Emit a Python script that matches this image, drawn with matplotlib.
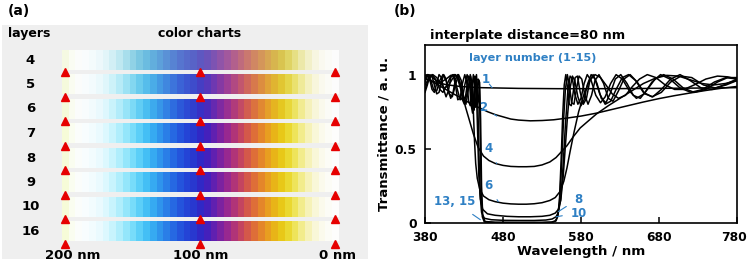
import numpy as np
import matplotlib
matplotlib.use("Agg")
import matplotlib.pyplot as plt
from matplotlib.transforms import blended_transform_factory, ScaledTranslation
from matplotlib.colors import to_rgb

plt.rcParams['font.family'] = ['DejaVu Sans']

# ---------------- data: panel (a) ----------------
layers = ['4', '5', '6', '7', '8', '9', '10', '16']
row_strength = [0.66, 0.84, 0.94, 1.0, 1.0, 1.0, 1.0, 1.0]
thickness_nm = list(range(200, -1, -5))          # 41 blocks, 200 nm (left) -> 0 nm (right)
palette = ['#f6fbd8', '#fafdf0', '#fbfdfb', '#f8fdfe', '#f2fcfe', '#eafafe', '#dcf8fe',
           '#c8f4fd', '#b0eefc', '#94e6fb', '#78dcfa', '#5ccff8', '#44bff5', '#36aaf1',
           '#2f94ec', '#2a7ee7', '#2668e2', '#2454dc', '#2444d6', '#2838cf', '#3028c6',
           '#4420bc', '#6020b0', '#7c22a0', '#982890', '#b03478', '#c44460', '#d4584a',
           '#de6e38', '#e4862a', '#e89e20', '#e8b418', '#e8c818', '#ead830', '#eee45a',
           '#f2ec8c', '#f6f2b8', '#f9f7d8', '#fbfaec', '#fcfcf6', '#fdfdfc']
marker_nm = [200, 100, 0]
scale_labels = ['200 nm', '100 nm', '0 nm']

# ---------------- data: panel (b) ----------------
layer1 = [(380,0.975),(390,0.955),(400,0.94),(410,0.93),(425,0.92),(450,0.912),(500,0.907),
          (550,0.905),(600,0.905),(650,0.906),(700,0.908),(750,0.91),(780,0.912)]
layer2 = [(380,0.975),(390,0.95),(400,0.92),(410,0.89),(420,0.86),(430,0.83),(440,0.80),(450,0.775),
          (460,0.75),(470,0.73),(480,0.715),(490,0.70),(500,0.693),(515,0.688),(530,0.69),(545,0.695),
          (560,0.705),(580,0.72),(600,0.74),(620,0.765),(640,0.79),(660,0.815),(680,0.838),(700,0.858),
          (720,0.876),(740,0.893),(760,0.908),(780,0.92)]
layer4 = [(380,0.99),(384,1.0),(389,0.985),(395,0.955),(401,0.95),(407,0.97),(413,0.995),(418,1.0),
          (422,0.97),(427,0.88),(432,0.78),(437,0.69),(442,0.6),(448,0.51),(455,0.45),(462,0.42),
          (470,0.40),(480,0.387),(490,0.38),(500,0.378),(510,0.378),(520,0.38),(530,0.39),(540,0.41),
          (548,0.44),(555,0.48),(562,0.52),(570,0.58),(579,0.64),(590,0.69),(600,0.735),(615,0.79),
          (630,0.84),(645,0.89),(660,0.94),(675,0.975),(690,0.995),(705,0.99),(720,0.965),(735,0.94),
          (750,0.93),(765,0.94),(780,0.96)]
layer6 = [(380,0.93),(385,0.975),(390,1.0),(395,0.98),(400,0.94),(405,0.91),(410,0.925),(415,0.97),
          (419,1.0),(423,0.98),(427,0.9),(430,0.84),(433,0.85),(436,0.93),(438.5,0.99),(440.5,0.93),
          (442,0.75),(443.5,0.55),(445,0.4),(447,0.3),(450,0.23),(455,0.18),(462,0.155),(470,0.142),
          (480,0.132),(490,0.127),(500,0.125),(510,0.125),(520,0.128),(530,0.135),(540,0.15),(547,0.17),
          (553,0.21),(558,0.28),(562,0.37),(566,0.48),(571,0.61),(577,0.75),(584,0.87),(591,0.96),
          (598,1.0),(605,0.98),(612,0.93),(620,0.87),(628,0.84),(637,0.86),(646,0.92),(655,0.97),
          (665,1.0),(676,0.98),(688,0.93),(700,0.9),(712,0.9),(725,0.93),(740,0.97),(755,0.99),
          (768,0.985),(780,0.97)]
layer8 = [(380,0.9),(384,0.96),(389,1.0),(394,0.965),(399,0.9),(403,0.88),(408,0.93),(413,0.99),
          (417,0.99),(421,0.91),(425,0.83),(428,0.84),(431,0.93),(434,1.0),(437,0.95),(439,0.8),
          (441,0.74),(443,0.85),(444.5,0.97),(446,0.88),(447.5,0.6),(449,0.32),(451,0.16),(454,0.09),
          (460,0.06),(470,0.05),(485,0.043),(500,0.04),(515,0.04),(530,0.043),(540,0.05),(547,0.065),
          (551,0.09),(554,0.15),(557,0.3),(560,0.52),(563,0.74),(566,0.91),(569,0.99),(572,0.96),
          (576,0.85),(580,0.79),(584,0.83),(588,0.93),(593,1.0),(598,0.97),(604,0.87),(611,0.8),
          (618,0.82),(625,0.9),(633,0.98),(641,1.0),(650,0.96),(660,0.88),(671,0.85),(683,0.88),
          (695,0.95),(708,0.99),(722,0.98),(737,0.93),(752,0.91),(766,0.93),(780,0.96)]
layer10 = [(380,0.95),(383,0.99),(387,0.97),(391,0.9),(395,0.89),(399,0.96),(403,1.0),(407,0.96),
           (411,0.87),(415,0.85),(419,0.93),(423,1.0),(426.5,0.96),(429.5,0.85),(432.5,0.8),(435.5,0.9),
           (438,1.0),(440,0.93),(441.5,0.78),(443,0.76),(444.5,0.9),(446,1.0),(447.5,0.86),(449,0.5),
           (450.5,0.2),(452.5,0.07),(456,0.03),(465,0.02),(480,0.016),(500,0.015),(520,0.015),
           (535,0.018),(543,0.025),(548,0.04),(551,0.07),(554,0.16),(557,0.38),(560,0.66),(563,0.88),
           (566,0.99),(569,0.97),(572,0.87),(576,0.8),(580,0.84),(584,0.94),(588,1.0),(593,0.96),
           (599,0.86),(605,0.81),(611,0.85),(618,0.94),(625,1.0),(633,0.97),(642,0.89),(651,0.84),
           (661,0.87),(671,0.95),(682,1.0),(694,0.97),(707,0.91),(721,0.88),(736,0.9),(751,0.95),
           (766,0.98),(780,0.97)]
layer13 = [(380,0.88),(383,0.93),(386,0.99),(389,0.99),(392,0.93),(395,0.87),(398,0.88),(401,0.95),
           (404,1.0),(407,0.97),(410,0.89),(413,0.84),(416,0.88),(419,0.97),(422,1.0),(425,0.94),
           (428,0.83),(430.5,0.8),(433,0.89),(435.5,0.99),(437.5,0.98),(439.5,0.84),(441,0.77),
           (442.5,0.86),(444,0.99),(445.5,0.97),(447,0.8),(448.5,0.82),(450,0.95),(451.3,0.7),
           (452.5,0.25),(454,0.05),(457,0.008),(470,0.003),(500,0.002),(530,0.002),(542,0.004),
           (547,0.012),(550,0.04),(552.5,0.14),(555,0.38),(557.5,0.68),(560,0.9),(562.5,1.0),
           (565,0.93),(568,0.81),(571,0.8),(574,0.9),(577.5,0.99),(581,0.97),(585,0.86),(589,0.8),
           (593.5,0.86),(598,0.96),(603,1.0),(609,0.94),(615,0.84),(621,0.82),(628,0.89),(635,0.97),
           (643,1.0),(652,0.95),(662,0.87),(672,0.85),(683,0.9),(695,0.97),(707,1.0),(720,0.96),
           (734,0.91),(748,0.9),(763,0.93),(780,0.97)]
layer15 = [(380,0.97),(383,1.0),(386,0.97),(389,0.9),(392,0.88),(395,0.94),(398,1.0),(401,0.98),
           (404,0.9),(407,0.85),(410,0.89),(413,0.98),(416,1.0),(419,0.93),(422,0.83),(425,0.84),
           (428,0.94),(431,1.0),(433.5,0.95),(436,0.82),(438,0.79),(440,0.9),(442,1.0),(443.5,0.92),
           (445,0.78),(446.5,0.82),(448,0.97),(449.5,0.96),(450.8,0.6),(452,0.2),(453.5,0.04),
           (456,0.005),(470,0.001),(500,0.0005),(530,0.001),(543,0.003),(548,0.012),(550.5,0.05),
           (552.5,0.17),(554.5,0.42),(556.5,0.72),(558.5,0.93),(560.5,1.0),(562.5,0.92),(565,0.8),
           (567.5,0.79),(570,0.88),(572.5,0.98),(575.5,0.99),(579,0.88),(583,0.8),(587,0.84),
           (591,0.95),(595.5,1.0),(600.5,0.94),(606,0.84),(612,0.81),(618,0.88),(624,0.97),(631,1.0),
           (639,0.94),(647,0.86),(656,0.84),(665,0.9),(675,0.97),(686,1.0),(698,0.97),(711,0.91),
           (725,0.88),(740,0.9),(755,0.95),(768,0.98),(780,0.98)]
curves = [layer1, layer2, layer4, layer6, layer8, layer10, layer13, layer15]

# label text, text position (nm, T), leader end (nm, T)
curve_labels = [('1', (458, 0.965), (466, 0.912)),
                ('2', (454, 0.78), (472, 0.72)),
                ('4', (461, 0.50), (472, 0.40)),
                ('6', (461, 0.25), (474, 0.142)),
                ('13, 15', (418, 0.14), (451, 0.02)),
                ('8', (576, 0.16), (551, 0.075)),
                ('10', (577, 0.065), (548, 0.04))]

BLUE = '#2f80c4'
W, H = 748, 264
fig = plt.figure(figsize=(W / 100, H / 100), dpi=100)


def rect(x0, y0, x1, y1):
    return [x0 / W, 1 - y1 / H, (x1 - x0) / W, (y1 - y0) / H]


# ---------- panel (a) ----------
ax_bg = fig.add_axes(rect(2, 25, 368, 259))
ax_bg.set_facecolor('#efefef')
ax_bg.set_xticks([]); ax_bg.set_yticks([])
for s in ax_bg.spines.values():
    s.set_visible(False)

ax_c = fig.add_axes(rect(61.5, 47.75, 338.4, 243.75))
ax_c.patch.set_visible(False)
for s in ax_c.spines.values():
    s.set_visible(False)

base = np.array([to_rgb(c) for c in palette])
lum = base @ np.array([0.299, 0.587, 0.114])
gray = np.maximum(lum, 0.72)[:, None] * np.ones((1, 3))
half = 0.39
x_left, x_right = thickness_nm[0] + 2.5, thickness_nm[-1] - 2.5
for i, (lab, s) in enumerate(zip(layers, row_strength)):
    rgb = np.clip(s * base + (1 - s) * gray, 0, 1)
    ax_c.imshow(rgb[None, :, :], extent=(x_left, x_right, i + half, i - half),
                aspect='auto', interpolation='nearest')
    ax_c.plot(marker_nm, [i + 0.49] * len(marker_nm), ls='none', marker='^', ms=5.2,
              color='#e60000', mec='#e60000', clip_on=False, zorder=5)
ax_c.set_xlim(x_left, x_right)
ax_c.set_ylim(len(layers) - 0.5, -0.5)
ax_c.set_xticks([]); ax_c.set_yticks([])

tr = blended_transform_factory(ax_c.transAxes, ax_c.transData)
for i, lab in enumerate(layers):
    ax_c.text(-0.112, i, lab, transform=tr, ha='center', va='center', fontsize=9.5, fontweight='bold')
ax_c.text(-0.117, -1.07, 'layers', transform=tr, ha='center', va='center', fontsize=9, fontweight='bold')
ax_c.text(100, -1.07, 'color charts', ha='center', va='center', fontsize=9, fontweight='bold')
for x, lab, dx in zip(marker_nm, scale_labels, [-6, -0.6, -1.5]):
    ax_c.text(x + dx, 7.97, lab, ha='center', va='center', fontsize=9.5, fontweight='bold', clip_on=False)

fig.text(8 / W, 1 - 11 / H, '(a)', ha='left', va='center', fontsize=10, fontweight='bold')
fig.text(394 / W, 1 - 11 / H, '(b)', ha='left', va='center', fontsize=10, fontweight='bold')

# ---------- panel (b) ----------
ax = fig.add_axes(rect(425, 45, 737, 222.7))
for c in curves:
    arr = np.array(c)
    ax.plot(arr[:, 0], arr[:, 1], color='black', lw=1.1, solid_joinstyle='round')
ax.set_xlim(380, 780)
ax.set_ylim(0, 1.2)
ax.set_xticks([380, 480, 580, 680, 780])
ax.set_yticks([0, 0.5, 1])
ax.set_yticklabels(['0', '0.5', '1'])
ax.tick_params(direction='in', length=4, width=1.1, labelsize=8.8, pad=6)
for lab in ax.get_xticklabels() + ax.get_yticklabels():
    lab.set_fontweight('bold')
last = ax.get_xticklabels()[-1]
last.set_transform(last.get_transform() + ScaledTranslation(-2.5 / 100, 0, fig.dpi_scale_trans))
for s in ax.spines.values():
    s.set_linewidth(1.2)
ax.set_xlabel('Wavelength / nm', fontsize=9.7, fontweight='bold', labelpad=1)
ax.set_ylabel('Transmittance / a. u.', fontsize=9.5, fontweight='bold', labelpad=3)
ax.set_title('interplate distance=80 nm', fontsize=9.4, fontweight='bold', loc='left', pad=4, x=0.015)
ax.text(518.5, 1.113, 'layer number (1-15)', color=BLUE, ha='center', va='center',
        fontsize=8.1, fontweight='bold')
for lab, pos, end in curve_labels:
    ax.annotate(lab, xy=end, xytext=pos, color=BLUE, fontsize=8.5, fontweight='bold',
                ha='center', va='center',
                arrowprops=dict(arrowstyle='-', color=BLUE, lw=0.8, shrinkA=4, shrinkB=0))

fig.savefig('out.png', dpi=100)
